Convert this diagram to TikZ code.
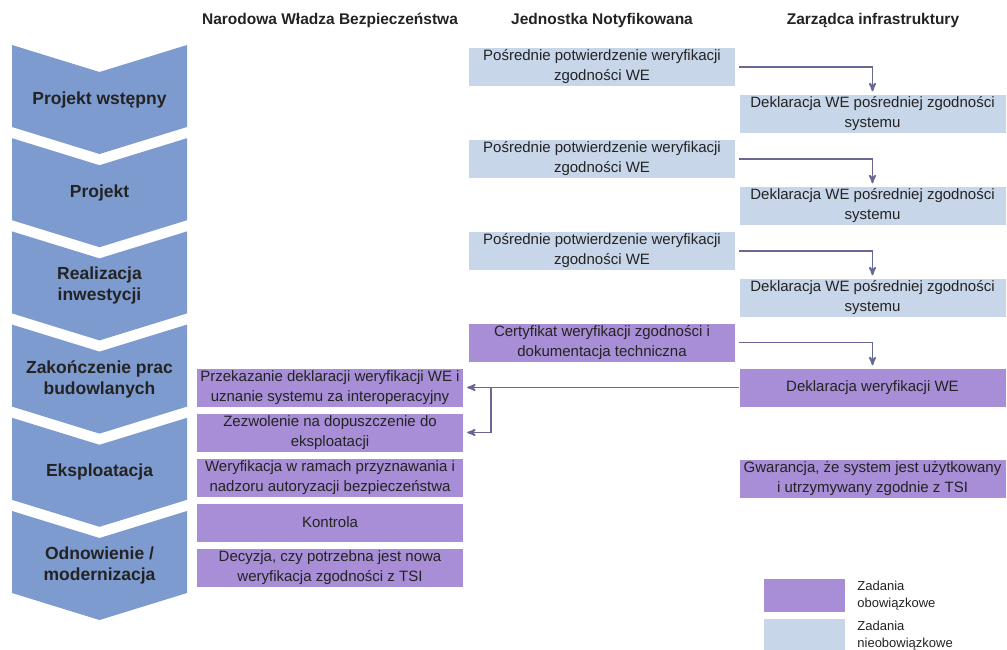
\documentclass[tikz,border=0pt]{standalone}
\usepackage{fontspec}
\setmainfont{Liberation Sans}
\usetikzlibrary{positioning, arrows}
\definecolor{chevblue}{RGB}{126,155,208}
\definecolor{optblue}{RGB}{200,214,234}
\definecolor{dutypurple}{RGB}{168,142,214}
\definecolor{linegray}{RGB}{104,104,148}
\definecolor{ink}{RGB}{35,35,35}
\tikzset{>=stealth', node distance=92pt,
  box/.style={rectangle, minimum width=266pt, minimum height=38pt, inner sep=0pt, align=center, text=ink, font=\fontsize{15}{20}\selectfont},
  optbox/.style={box, fill=optblue},
  dutybox/.style={box, fill=dutypurple},
  phase/.style={align=center, text=ink, font=\fontsize{17.5}{21}\selectfont\bfseries},
  header/.style={text=ink, font=\fontsize{15.5}{19}\selectfont\bfseries},
  chevron/.style={fill=chevblue},
  flow/.style={->, draw=linegray, line width=1.8pt, shorten >=3pt},
  legend/.style={align=left, inner sep=0pt, text=ink, font=\fontsize{13}{17}\selectfont}}

\begin{document}
\begin{tikzpicture}[x=1pt, y=-1pt]
\useasboundingbox (0,0) rectangle (1007,649);

% phases
\foreach \t in {45,138.2,231.4,324.6,417.8,511}
  \fill[chevron] (12,\t) -- (99.5,{\t+27}) -- (187,\t) -- (187,{\t+82})
    -- (99.5,{\t+109}) -- (12,{\t+82}) -- cycle;
\node[phase] (p1) at (99.5,99.5) {Projekt wstępny};
\node[phase, below of=p1, node distance=93.2pt] (p2) {Projekt};
\node[phase, below of=p2, node distance=93.2pt] (p3) {Realizacja\\inwestycji};
\node[phase, below of=p3, node distance=93.2pt] (p4) {Zakończenie prac\\budowlanych};
\node[phase, below of=p4, node distance=93.2pt] (p5) {Eksploatacja};
\node[phase, below of=p5, node distance=93.2pt] (p6) {Odnowienie /\\modernizacja};

% column headers
\node[header] (nsa) at (330,20) {Narodowa Władza Bezpieczeństwa};
\node[header] (nb) at (602,20) {Jednostka Notyfikowana};
\node[header] (im) at (873,20) {Zarządca infrastruktury};

% notified body
\node[optbox] (nb1) at (602,67) {Pośrednie potwierdzenie weryfikacji\\zgodności WE};
\node[optbox, below of=nb1] (nb2) {Pośrednie potwierdzenie weryfikacji\\zgodności WE};
\node[optbox, below of=nb2] (nb3) {Pośrednie potwierdzenie weryfikacji\\zgodności WE};
\node[dutybox] (cert) at (602,342.5) {Certyfikat weryfikacji zgodności i\\dokumentacja techniczna};

% infrastructure manager
\node[optbox] (im1) at (872.5,113.5) {Deklaracja WE pośredniej zgodności\\systemu};
\node[optbox, below of=im1] (im2) {Deklaracja WE pośredniej zgodności\\systemu};
\node[optbox, below of=im2] (im3) {Deklaracja WE pośredniej zgodności\\systemu};
\node[dutybox] (decl) at (872.5,387.5) {Deklaracja weryfikacji WE};
\node[dutybox] (guar) at (872.5,479) {Gwarancja, że system jest użytkowany\\i utrzymywany zgodnie z TSI};

% safety authority
\node[dutybox] (handover) at (330,387.5) {Przekazanie deklaracji weryfikacji WE i\\uznanie systemu za interoperacyjny};
\node[dutybox, below of=handover, node distance=45pt] (permit) {Zezwolenie na dopuszczenie do\\eksploatacji};
\node[dutybox, below of=permit, node distance=45pt] (supervise) {Weryfikacja w ramach przyznawania i\\nadzoru autoryzacji bezpieczeństwa};
\node[dutybox, below of=supervise, node distance=45pt] (control) {Kontrola};
\node[dutybox, below of=control, node distance=45pt] (decide) {Decyzja, czy potrzebna jest nowa\\weryfikacja zgodności z TSI};

% flows
\draw[flow, shorten <=4pt] (nb1.east) -| (im1.north);
\draw[flow, shorten <=4pt] (nb2.east) -| (im2.north);
\draw[flow, shorten <=4pt] (nb3.east) -| (im3.north);
\draw[flow, shorten <=4pt] (cert.east) -| (decl.north);
\coordinate (split) at (491,387.5);
\draw[flow, shorten >=4pt] (decl.west) -- (handover.east);
\draw[flow, shorten >=4pt] (split) |- (permit.east);

% legend
\node[dutybox, minimum width=81pt, minimum height=33pt] (keyduty) at (804.5,595.5) {};
\node[optbox, minimum width=81pt, minimum height=33pt, below=7pt of keyduty] (keyopt) {};
\node[legend, right=12pt of keyduty] (keydutytext) {Zadania\\obowiązkowe};
\node[legend, right=12pt of keyopt] (keyopttext) {Zadania\\nieobowiązkowe};
\end{tikzpicture}
\end{document}
